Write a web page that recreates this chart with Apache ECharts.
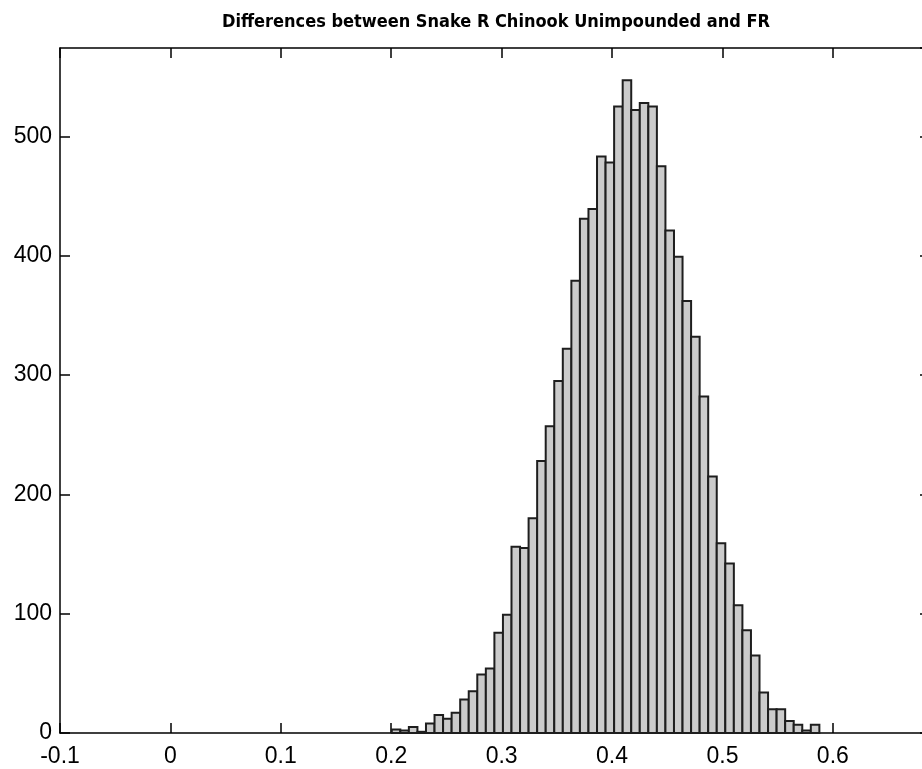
<!DOCTYPE html>
<html>
<head>
<meta charset="utf-8">
<script src="https://cdn.jsdelivr.net/npm/echarts@6/dist/echarts.min.js"></script>
<style>
  html, body { margin: 0; padding: 0; background: #ffffff; }
  #chart { width: 922px; height: 769px; }
</style>
</head>
<body>
<div id="chart"></div>
<script>
// Histogram of 10000 differences, 50 equal-width bins
const binStart = 0.2005;
const binWidth = 0.007746;
const counts = [
  3, 2, 5, 1, 8, 15, 12, 17, 28, 35,
  49, 54, 84, 99, 156, 155, 180, 228, 257, 295,
  322, 379, 431, 439, 483, 478, 525, 547, 522, 528,
  525, 475, 421, 399, 362, 332, 282, 215, 159, 142,
  107, 86, 65, 34, 20, 20, 10, 7, 2, 7
];
const xTicks = [-0.1, 0, 0.1, 0.2, 0.3, 0.4, 0.5, 0.6];
const yTicks = [0, 100, 200, 300, 400, 500];
const titleText = 'Differences between Snake R Chinook Unimpounded and FR';

// [left edge, right edge, count] per bin
const bins = counts.map((c, i) => [binStart + i * binWidth, binStart + (i + 1) * binWidth, c]);

const xMin = xTicks[0], xMax = 0.688, yMax = 574;
const labelFont = "'Liberation Sans', Arial, Helvetica, sans-serif";

const axisLine = { show: true, onZero: false, lineStyle: { color: '#000000', width: 1.5 } };
const tickStyle = { show: true, inside: true, length: 10, lineStyle: { color: '#000000', width: 1.5 } };

const chart = echarts.init(document.getElementById('chart'), null, { renderer: 'canvas' });
chart.setOption({
  backgroundColor: '#ffffff',
  animation: false,
  title: {
    text: titleText,
    left: 491,
    top: 8,
    textAlign: 'center',
    textStyle: {
      fontFamily: "'Liberation Sans Narrow', 'DejaVu Sans Condensed', 'Liberation Sans', Arial, sans-serif",
      fontWeight: 'bold',
      fontSize: 18,
      color: '#000000'
    }
  },
  // the plot box runs a few pixels past the right edge of the page
  grid: { left: 60, width: 870, top: 48, bottom: 36, show: false, outerBoundsMode: 'none', containLabel: false },
  xAxis: [
    {
      type: 'value', min: xMin, max: xMax, interval: 0.1,
      axisLine: axisLine, axisTick: tickStyle, splitLine: { show: false },
      axisLabel: {
        showMaxLabel: false, margin: 12, color: '#000000', fontSize: 23, fontFamily: labelFont,
        formatter: v => String(Math.round(v * 10) / 10)
      }
    },
    {
      type: 'value', position: 'top', min: xMin, max: xMax, interval: 0.1,
      axisLine: axisLine, axisTick: tickStyle, splitLine: { show: false },
      axisLabel: { show: false }
    }
  ],
  yAxis: [
    {
      type: 'value', min: 0, max: yMax, interval: 100,
      axisLine: axisLine, axisTick: tickStyle, splitLine: { show: false },
      axisLabel: {
        showMaxLabel: false, margin: 8, color: '#000000', fontSize: 23, fontFamily: labelFont,
        formatter: v => (yTicks.includes(v) ? String(v) : '')
      }
    },
    {
      type: 'value', position: 'right', min: 0, max: yMax, interval: 100,
      axisLine: axisLine, axisTick: tickStyle, splitLine: { show: false },
      axisLabel: { show: false }
    }
  ],
  series: [{
    type: 'custom',
    xAxisIndex: 0,
    yAxisIndex: 0,
    data: bins,
    encode: { x: [0, 1], y: 2 },
    renderItem: (params, api) => {
      const topLeft = api.coord([api.value(0), api.value(2)]);
      const bottomRight = api.coord([api.value(1), 0]);
      return {
        type: 'rect',
        shape: {
          x: topLeft[0], y: topLeft[1],
          width: bottomRight[0] - topLeft[0],
          height: bottomRight[1] - topLeft[1]
        },
        style: { fill: '#cbcbcb', stroke: '#1e1e1e', lineWidth: 2 }
      };
    }
  }]
});
</script>
</body>
</html>
